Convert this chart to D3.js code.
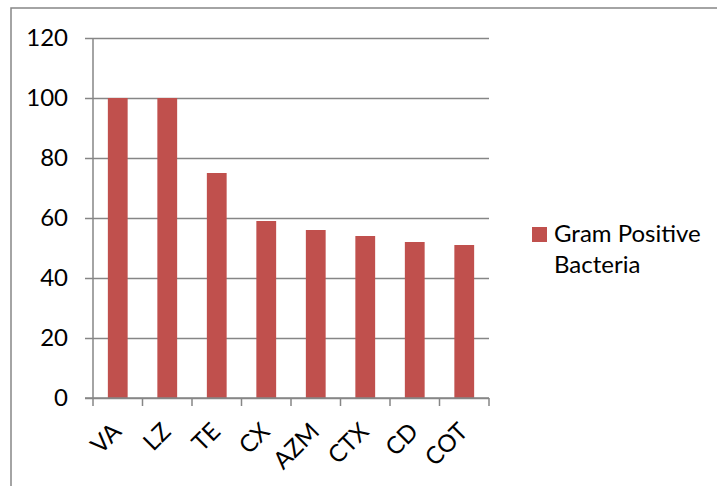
<!DOCTYPE html>
<html>
<head>
<meta charset="utf-8">
<script src="https://cdn.jsdelivr.net/npm/d3@7"></script>
<style>
  body { margin: 0; background: #fff; }
  svg { display: block; }
</style>
</head>
<body>
<div id="chart"></div>
<script>
const categories = ["VA", "LZ", "TE", "CX", "AZM", "CTX", "CD", "COT"];
const values = [100, 100, 75, 59, 56, 54, 52, 51];
const yTicks = [0, 20, 40, 60, 80, 100, 120];
const seriesName = ["Gram Positive", "Bacteria"];

const width = 717, height = 486;
const margin = { top: 38, left: 93, right: 228, bottom: 88 };
const barColor = "#C0504D";
const gridColor = "#868686";
const font = "Lato, 'Open Sans', sans-serif";
const fontSize = 24;

const svg = d3
  .select("#chart")
  .append("svg")
  .attr("width", width)
  .attr("height", height);

// chart frame, cut by the window on right and bottom
svg.append("rect")
  .attr("x", 11)
  .attr("y", 8)
  .attr("width", width)
  .attr("height", height)
  .attr("fill", "none")
  .attr("stroke", gridColor)
  .attr("stroke-width", 1.5);

const x = d3.scaleBand()
  .domain(categories)
  .range([margin.left, width - margin.right])
  .paddingInner(0.6)
  .paddingOuter(0.3);

const y = d3.scaleLinear()
  .domain([0, 120])
  .range([height - margin.bottom, margin.top]);

// y axis with gridlines
const yAxis = svg.append("g")
  .attr("transform", `translate(${margin.left},0)`)
  .call(
    d3.axisLeft(y)
      .tickValues(yTicks)
      .tickSize(-(width - margin.right - margin.left))
      .tickPadding(25)
  );
yAxis.select(".domain").remove();
yAxis.selectAll(".tick line")
  .attr("stroke", gridColor)
  .attr("stroke-width", 1.5)
  .attr("x1", -8);
yAxis.selectAll(".tick text")
  .attr("font-family", font)
  .attr("font-size", fontSize)
  .attr("fill", "#000");

// vertical axis line
svg.append("line")
  .attr("x1", margin.left)
  .attr("x2", margin.left)
  .attr("y1", y(120))
  .attr("y2", y(0))
  .attr("stroke", gridColor)
  .attr("stroke-width", 1.5);

// bars
svg.selectAll(".bar")
  .data(categories)
  .join("rect")
  .attr("class", "bar")
  .attr("x", (d) => x(d))
  .attr("width", x.bandwidth())
  .attr("y", (d, i) => y(values[i]))
  .attr("height", (d, i) => y(0) - y(values[i]))
  .attr("fill", barColor);

// x axis: ticks at the category boundaries
const bounds = d3.range(categories.length + 1).map((i) => margin.left + i * (width - margin.right - margin.left) / categories.length);
const xAxis = svg.append("g");
xAxis.append("line")
  .attr("x1", margin.left - 8)
  .attr("x2", width - margin.right)
  .attr("y1", y(0))
  .attr("y2", y(0))
  .attr("stroke", gridColor)
  .attr("stroke-width", 1.5);
xAxis.selectAll(".xtick")
  .data(bounds)
  .join("line")
  .attr("x1", (d) => d)
  .attr("x2", (d) => d)
  .attr("y1", y(0))
  .attr("y2", y(0) + 8)
  .attr("stroke", gridColor)
  .attr("stroke-width", 1.5);

xAxis.selectAll(".xlabel")
  .data(categories)
  .join("text")
  .attr("transform", (d) => `translate(${x(d) + x.bandwidth() / 2 + 5},${y(0) + 35}) rotate(-45)`)
  .attr("text-anchor", "end")
  .attr("font-family", font)
  .attr("font-size", fontSize)
  .attr("fill", "#000")
  .text((d) => d);

// legend
const legend = svg.append("g").attr("transform", "translate(532,227)");
legend.append("rect")
  .attr("width", 15)
  .attr("height", 15)
  .attr("fill", barColor);
legend.append("text")
  .attr("y", 15)
  .attr("font-family", font)
  .attr("font-size", fontSize)
  .attr("fill", "#000")
  .selectAll("tspan")
  .data(seriesName)
  .join("tspan")
  .attr("x", 22)
  .attr("dy", (d, i) => (i === 0 ? 0 : 31))
  .text((d) => d);
</script>
</body>
</html>
